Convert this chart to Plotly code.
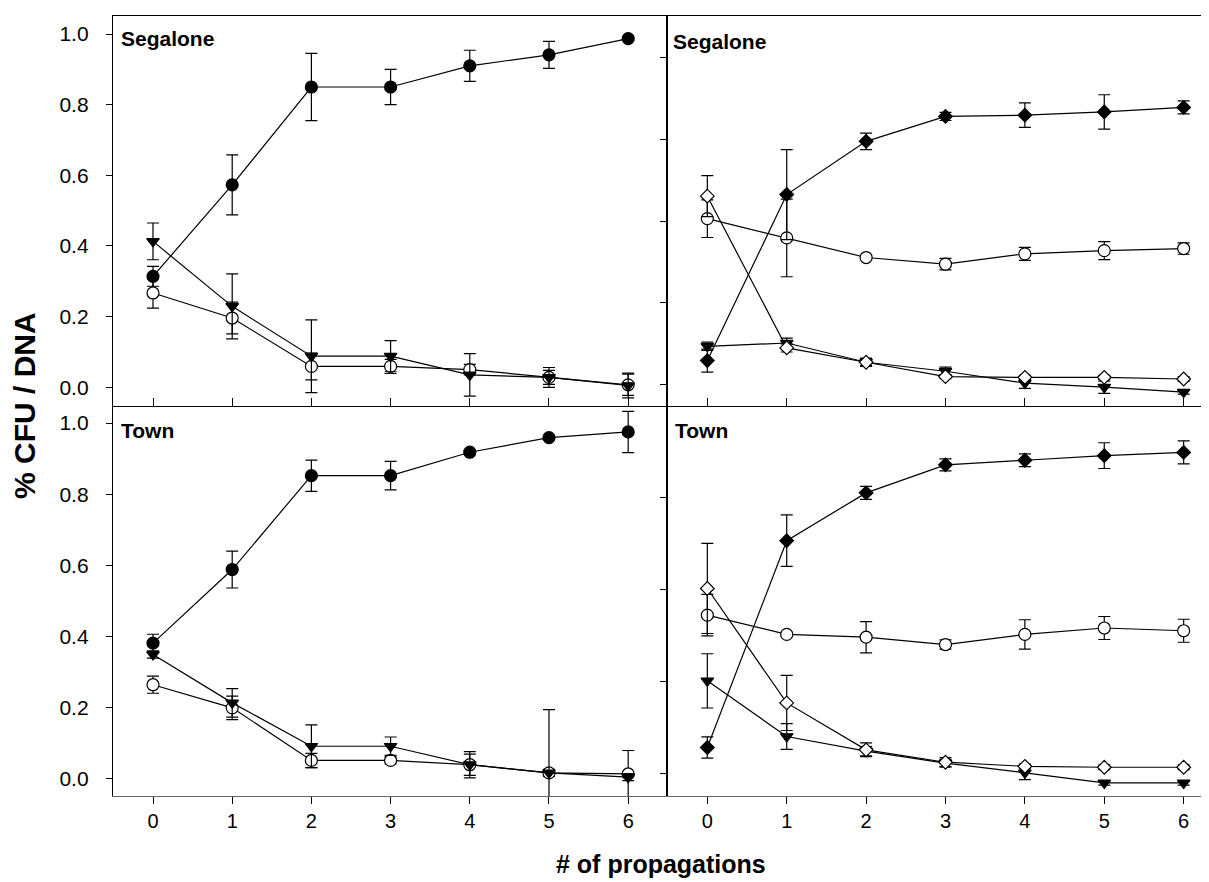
import plotly.graph_objects as go

W, H = 1209, 882

# ---------------- data ----------------
propagations = [0, 1, 2, 3, 4, 5, 6]

# Segalone (left panel)
seg_l_circle_filled = [0.314, 0.573, 0.850, 0.850, 0.910, 0.941, 0.987]
seg_l_circle_filled_err = [0.028, 0.085, 0.095, 0.050, 0.044, 0.038, 0.005]
seg_l_triangle = [0.413, 0.229, 0.088, 0.088, 0.035, 0.028, 0.005]
seg_l_triangle_err = [0.052, 0.092, 0.103, 0.044, 0.060, 0.028, 0.035]
seg_l_circle_open = [0.267, 0.196, 0.059, 0.059, 0.050, 0.028, 0.007]
seg_l_circle_open_err = [0.043, 0.045, 0.038, 0.020, 0.015, 0.020, 0.030]

# Segalone (right panel)
seg_r_diamond_filled = [0.059, 0.465, 0.595, 0.656, 0.659, 0.667, 0.678]
seg_r_diamond_filled_err = [0.028, 0.110, 0.020, 0.010, 0.030, 0.042, 0.016]
seg_r_circle_open = [0.406, 0.359, 0.311, 0.295, 0.320, 0.328, 0.333]
seg_r_circle_open_err = [0.046, 0.095, 0.005, 0.014, 0.016, 0.022, 0.014]
seg_r_diamond_open = [0.461, 0.090, 0.055, 0.020, 0.018, 0.018, 0.014]
seg_r_diamond_open_err = [0.050, 0.010, 0.008, 0.005, 0.005, 0.005, 0.005]
seg_r_triangle = [0.094, 0.102, 0.055, 0.033, 0.004, -0.006, -0.018]
seg_r_triangle_err = [0.010, 0.012, 0.010, 0.010, 0.013, 0.015, 0.005]

# Town (left panel)
town_l_circle_filled = [0.381, 0.588, 0.852, 0.852, 0.918, 0.959, 0.975]
town_l_circle_filled_err = [0.025, 0.052, 0.044, 0.040, 0.005, 0.005, 0.058]
town_l_triangle = [0.349, 0.213, 0.091, 0.091, 0.039, 0.016, 0.004]
town_l_triangle_err = [0.010, 0.040, 0.060, 0.026, 0.037, 0.178, 0.010]
town_l_circle_open = [0.264, 0.199, 0.051, 0.051, 0.039, 0.016, 0.013]
town_l_circle_open_err = [0.024, 0.033, 0.020, 0.010, 0.030, 0.010, 0.066]

# Town (right panel)
town_r_diamond_filled = [0.057, 0.507, 0.611, 0.672, 0.682, 0.692, 0.699]
town_r_diamond_filled_err = [0.023, 0.056, 0.014, 0.013, 0.014, 0.028, 0.025]
town_r_circle_open = [0.345, 0.303, 0.297, 0.281, 0.303, 0.317, 0.311]
town_r_circle_open_err = [0.045, 0.005, 0.034, 0.010, 0.032, 0.025, 0.025]
town_r_diamond_open = [0.403, 0.154, 0.052, 0.025, 0.016, 0.014, 0.014]
town_r_diamond_open_err = [0.098, 0.060, 0.015, 0.010, 0.005, 0.005, 0.005]
town_r_triangle = [0.202, 0.081, 0.049, 0.023, 0.002, -0.020, -0.020]
town_r_triangle_err = [0.059, 0.028, 0.010, 0.008, 0.015, 0.005, 0.005]

left_yticks = [0.0, 0.2, 0.4, 0.6, 0.8, 1.0]
top_right_yticks = [0.0, 0.2, 0.4, 0.6, 0.8]
bottom_right_yticks = [0.0, 0.2, 0.4, 0.6]

# ---------------- styling ----------------
FONT = "Arial, Liberation Sans, Helvetica, sans-serif"
SYM = {
    "circle_filled": dict(symbol="circle", size=12, color="black"),
    "circle_open": dict(symbol="circle", size=12, color="white"),
    "triangle": dict(symbol="triangle-down", size=11, color="black"),
    "diamond_filled": dict(symbol="diamond", size=10.5, color="black"),
    "diamond_open": dict(symbol="diamond", size=10.5, color="white"),
}


def add(fig, y, err, kind, xa, ya):
    m = SYM[kind]
    fig.add_trace(go.Scatter(
        x=propagations, y=y, mode="lines+markers",
        xaxis=xa, yaxis=ya, showlegend=False,
        line=dict(color="black", width=1.2),
        marker=dict(symbol=m["symbol"], size=m["size"], color=m["color"],
                    line=dict(color="black", width=1.2)),
        error_y=dict(type="data", array=err, visible=True, color="black",
                     thickness=1.2, width=6),
    ))


fig = go.Figure()
# top-left
add(fig, seg_l_circle_open, seg_l_circle_open_err, "circle_open", "x", "y")
add(fig, seg_l_triangle, seg_l_triangle_err, "triangle", "x", "y")
add(fig, seg_l_circle_filled, seg_l_circle_filled_err, "circle_filled", "x", "y")
# top-right
add(fig, seg_r_triangle, seg_r_triangle_err, "triangle", "x2", "y2")
add(fig, seg_r_circle_open, seg_r_circle_open_err, "circle_open", "x2", "y2")
add(fig, seg_r_diamond_filled, seg_r_diamond_filled_err, "diamond_filled", "x2", "y2")
add(fig, seg_r_diamond_open, seg_r_diamond_open_err, "diamond_open", "x2", "y2")
# bottom-left
add(fig, town_l_circle_open, town_l_circle_open_err, "circle_open", "x3", "y3")
add(fig, town_l_triangle, town_l_triangle_err, "triangle", "x3", "y3")
add(fig, town_l_circle_filled, town_l_circle_filled_err, "circle_filled", "x3", "y3")
# bottom-right
add(fig, town_r_triangle, town_r_triangle_err, "triangle", "x4", "y4")
add(fig, town_r_circle_open, town_r_circle_open_err, "circle_open", "x4", "y4")
add(fig, town_r_diamond_filled, town_r_diamond_filled_err, "diamond_filled", "x4", "y4")
add(fig, town_r_diamond_open, town_r_diamond_open_err, "diamond_open", "x4", "y4")

# geometry (pixels -> paper)
xl0, xdiv, xr1 = 105, 659, 1209
ytop, ydiv, ybot = 8, 398, 788
left_dom = [xl0 / W, xdiv / W]
right_dom = [xdiv / W, xr1 / W]
top_dom = [1 - ydiv / H, 1 - ytop / H]
bot_dom = [1 - ybot / H, 1 - ydiv / H]

common = dict(showgrid=False, zeroline=False, showline=True, linewidth=1.3,
              tickcolor="black", tickwidth=1.2)

x_left_range = [-0.505, 6.49]
x_right_range = [-0.508, 6.42]

fig.update_layout(
    width=W, height=H,
    margin=dict(l=0, r=0, t=0, b=0),
    paper_bgcolor="white", plot_bgcolor="white",
    font=dict(family=FONT, color="black"),
    xaxis=dict(domain=left_dom, anchor="y", range=x_left_range, tickvals=propagations,
               ticks="inside", ticklen=8, showticklabels=False, mirror=True,
               linecolor="black", **common),
    yaxis=dict(domain=top_dom, anchor="x", range=[-0.053, 1.051], tickvals=left_yticks,
               tickformat=".1f", ticks="outside", ticklen=6, mirror=True,
               linecolor="black", tickfont=dict(size=21, family=FONT),
               ticklabelstandoff=13, **common),
    xaxis2=dict(domain=right_dom, anchor="y2", range=x_right_range, tickvals=propagations,
                ticks="inside", ticklen=8, showticklabels=False, mirror=True,
                linecolor="black", **common),
    yaxis2=dict(domain=top_dom, anchor="x2", range=[-0.052, 0.9015], tickvals=top_right_yticks,
                ticks="outside", ticklen=6, showticklabels=False,
                linecolor="black", **common),
    xaxis3=dict(domain=left_dom, anchor="y3", range=x_left_range, tickvals=propagations,
                ticks="outside", ticklen=7, linecolor="#666",
                tickfont=dict(size=20, family=FONT), ticklabelstandoff=0, **common),
    yaxis3=dict(domain=bot_dom, anchor="x3", range=[-0.049, 1.048], tickvals=left_yticks,
                tickformat=".1f", ticks="outside", ticklen=6, mirror=True,
                linecolor="black", tickfont=dict(size=21, family=FONT),
                ticklabelstandoff=13, **common),
    xaxis4=dict(domain=right_dom, anchor="y4", range=x_right_range, tickvals=propagations,
                ticks="outside", ticklen=7, linecolor="#666",
                tickfont=dict(size=20, family=FONT), ticklabelstandoff=0, **common),
    yaxis4=dict(domain=bot_dom, anchor="x4", range=[-0.0485, 0.800], tickvals=bottom_right_yticks,
                ticks="outside", ticklen=6, showticklabels=False,
                linecolor="black", **common),
)

label_font = dict(family=FONT, size=21, color="black")


def ann(text, px, py, **kw):
    d = dict(text=text, x=px / W, y=1 - py / H, xref="paper", yref="paper",
             showarrow=False, font=label_font, xanchor="left", yanchor="middle")
    d.update(kw)
    fig.add_annotation(**d)


ann("<b>Segalone</b>", 111, 30)
ann("<b>Segalone</b>", 663, 33)
ann("<b>Town</b>", 111, 422)
ann("<b>Town</b>", 665, 422)
ann("<b>% CFU / DNA</b>", 16, 398, xanchor="center", textangle=-90,
    font=dict(family=FONT, size=30, color="black"))
ann("<b># of propagations</b>", 653, 856, xanchor="center",
    font=dict(family=FONT, size=25, color="black"))

fig.write_html("out.html")
